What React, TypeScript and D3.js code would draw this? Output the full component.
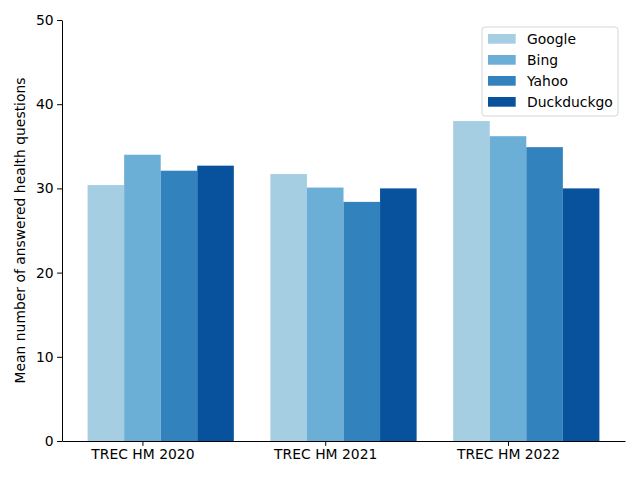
import * as d3 from "d3";
import { useEffect, useRef } from "react";

const datasets = ["TREC HM 2020", "TREC HM 2021", "TREC HM 2022"];
const engines = ["Google", "Bing", "Yahoo", "Duckduckgo"];
const google = [30.4, 31.7, 38.0];
const bing = [34.0, 30.1, 36.2];
const yahoo = [32.1, 28.4, 34.9];
const duckduckgo = [32.7, 30.0, 30.0];
const yTicks = [0, 10, 20, 30, 40, 50];
const colors = ["#a6cee3", "#6baed6", "#3182bd", "#08519c"];

const W = 640;
const H = 480;
const margin = { top: 20, right: 15, bottom: 39, left: 62 };
const font = "DejaVu Sans, sans-serif";
const barW = 0.2;

export default function App() {
  const ref = useRef<SVGSVGElement | null>(null);

  useEffect(() => {
    const svg = d3.select(ref.current);
    svg.selectAll("*").remove();

    const series = [google, bing, yahoo, duckduckgo];
    // bars sit at tick + (i-1)*barW, centred; ticks fall on the Bing bar
    const lo = -1 * barW - barW / 2;
    const hi = datasets.length - 1 + 2 * barW + barW / 2;
    const pad = (hi - lo) * 0.05;
    const x = d3
      .scaleLinear()
      .domain([lo - pad, hi + pad])
      .range([margin.left, W - margin.right]);
    const y = d3
      .scaleLinear()
      .domain([0, 50])
      .range([H - margin.bottom, margin.top]);

    // bars
    engines.forEach((_, i) => {
      svg
        .append("g")
        .attr("fill", colors[i])
        .selectAll("rect")
        .data(series[i])
        .join("rect")
        .attr("x", (_, j) => x(j + (i - 1) * barW - barW / 2))
        .attr("y", (d) => y(d))
        .attr("width", x(barW) - x(0))
        .attr("height", (d) => y(0) - y(d));
    });

    // y axis
    const ya = svg
      .append("g")
      .attr("transform", `translate(${margin.left},0)`)
      .call(d3.axisLeft(y).tickValues(yTicks).tickSize(4.9).tickPadding(3.5).tickSizeOuter(0));
    ya.select(".domain").attr("stroke", "#000").attr("stroke-width", 1);
    ya.selectAll(".tick line").attr("stroke", "#000");
    ya.selectAll(".tick text")
      .attr("font-family", font)
      .attr("font-size", 13.9)
      .attr("fill", "#000");

    // x axis
    const xa = svg
      .append("g")
      .attr("transform", `translate(0,${H - margin.bottom})`)
      .call(
        d3
          .axisBottom(x)
          .tickValues(d3.range(datasets.length))
          .tickFormat((d) => datasets[+d])
          .tickSize(4.9)
          .tickPadding(3.5)
          .tickSizeOuter(0),
      );
    xa.select(".domain").attr("stroke", "#000").attr("stroke-width", 1);
    xa.selectAll(".tick line").attr("stroke", "#000");
    xa.selectAll(".tick text")
      .attr("font-family", font)
      .attr("font-size", 13.9)
      .attr("fill", "#000");

    // y label
    svg
      .append("text")
      .attr("transform", `translate(25,${(margin.top + H - margin.bottom) / 2}) rotate(-90)`)
      .attr("text-anchor", "middle")
      .attr("font-family", font)
      .attr("font-size", 13.9)
      .text("Mean number of answered health questions");

    // legend
    const lg = svg.append("g").attr("transform", "translate(482,27)");
    lg.append("rect")
      .attr("width", 136)
      .attr("height", 89)
      .attr("rx", 3)
      .attr("fill", "#fff")
      .attr("fill-opacity", 0.8)
      .attr("stroke", "#d6d6d6");
    engines.forEach((eng, i) => {
      const row = lg.append("g").attr("transform", `translate(0,${12 + i * 21})`);
      row.append("rect")
        .attr("x", 6)
        .attr("y", -5)
        .attr("width", 27.7)
        .attr("height", 9.7)
        .attr("fill", colors[i]);
      row.append("text")
        .attr("x", 45)
        .attr("dy", "0.36em")
        .attr("font-family", font)
        .attr("font-size", 13.9)
        .attr("fill", "#000")
        .text(eng);
    });
  }, []);

  return <svg ref={ref} width={W} height={H} style={{ display: "block", margin: -8 }} />;
}
